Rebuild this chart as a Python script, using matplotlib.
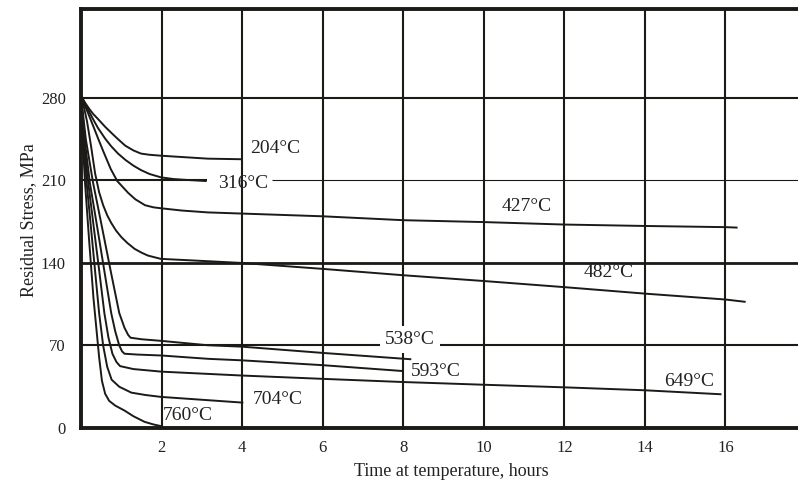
import matplotlib
matplotlib.use("Agg")
import matplotlib.pyplot as plt

plt.rcParams['font.family'] = ['Liberation Serif', 'DejaVu Serif']

# ---------------- data ----------------
x_ticks = [2, 4, 6, 8, 10, 12, 14, 16]
y_ticks = [0, 70, 140, 210, 280]

t204 = [0, 0.1, 0.2, 0.3, 0.42, 0.6, 0.75, 0.92, 1.1, 1.3, 1.49, 1.7, 1.99, 3.15, 4.0]
s204 = [282, 276, 271, 266.5, 262.2, 255.5, 250.5, 245, 239.5, 235.5, 232.8, 231.8, 231, 228.5, 228]

t316 = [0, 0.1, 0.2, 0.3, 0.42, 0.6, 0.75, 0.92, 1.1, 1.3, 1.49, 1.7, 1.99, 2.3, 2.6, 3.12]
s316 = [282, 275, 268.5, 262, 254.6, 245.5, 239, 232.8, 227.5, 222.6, 218.8, 215.5, 212.6, 211.2, 210.5, 209.5]

t427 = [0, 0.1, 0.2, 0.3, 0.42, 0.55, 0.74, 0.9, 1.17, 1.35, 1.59, 1.8, 1.99, 2.5, 3.15, 6, 8, 10, 12, 14, 16, 16.3]
s427 = [282, 273.5, 265, 256.5, 246, 235, 219.6, 209.5, 199.5, 194, 189, 187.2, 186.4, 184.5, 182.9,
        179.6, 176.3, 174.7, 172.6, 171.4, 170.4, 170]

t482 = [0, 0.05, 0.15, 0.25, 0.35, 0.45, 0.55, 0.65, 0.75, 0.87, 1.0, 1.15, 1.33, 1.5, 1.66, 1.98,
        3.15, 4.0, 6, 8, 10, 12, 14, 16, 16.5]
s482 = [282, 276, 260, 239, 216, 200, 189, 180.5, 174, 167.5, 162, 157, 152, 148.8, 146.3, 143.5,
        141.5, 140, 135, 129.6, 124.7, 119.5, 114, 109, 107]

t538 = [0, 0.12, 0.3, 0.5, 0.75, 0.95, 1.08, 1.17, 1.23, 1.5, 2.0, 3.15, 4, 6, 8.2]
s538 = [282, 245, 208, 174, 131, 97.5, 85, 79, 76.6, 75.3, 73.9, 70.2, 69, 63.7, 58.3]

t593 = [0, 0.1, 0.22, 0.4, 0.6, 0.75, 0.85, 0.95, 1.02, 1.08, 1.4, 2.0, 3.15, 4, 6, 8]
s593 = [282, 242, 208, 171, 129, 97.5, 82, 70, 65, 63, 62.3, 61.5, 58.7, 57.4, 53.3, 48.3]

t649 = [0, 0.08, 0.18, 0.3, 0.45, 0.58, 0.68, 0.78, 0.88, 0.97, 1.3, 2.0, 4, 6, 8, 10, 12, 14, 15.9]
s649 = [282, 240, 208, 175, 134, 97.5, 77, 63, 56, 52.5, 50, 47.8, 44.5, 41.7, 39, 36.7, 34.5, 32, 28.6]

t704 = [0, 0.06, 0.14, 0.25, 0.35, 0.45, 0.55, 0.65, 0.76, 0.95, 1.25, 1.6, 1.98, 3.15, 4.03]
s704 = [282, 240, 208, 169, 133, 97.5, 70, 52, 41, 35, 30, 28, 26.4, 23.6, 21.5]

t760 = [0, 0.04, 0.1, 0.2, 0.31, 0.38, 0.45, 0.52, 0.6, 0.7, 0.85, 1.08, 1.3, 1.58, 1.8, 2.0]
s760 = [282, 245, 208, 160, 110, 85, 60, 40, 29, 23, 19, 14.8, 10, 5.2, 3, 1.5]

curves = [(t204, s204), (t316, s316), (t427, s427), (t482, s482), (t538, s538),
          (t593, s593), (t649, s649), (t704, s704), (t760, s760)]

labels = ['204°C', '316°C', '427°C', '482°C', '538°C', '593°C', '649°C', '704°C', '760°C']
label_x = [4.19, 3.40, 10.45, 12.48, 7.55, 8.19, 14.47, 4.27, 2.03]
label_y = [237, 207.4, 188, 131.7, 75, 47.8, 39.5, 23.9, 10.7]

# ---------------- figure ----------------
W, H = 798, 487
fig = plt.figure(figsize=(W / 100, H / 100), dpi=100)
x0_px, y0_px, ytop_px = 81, 428, 9.2
ax = fig.add_axes([x0_px / W, (H - y0_px) / H, (W - x0_px) / W, (y0_px - ytop_px) / H])
ax.set_xlim(0, 17.8)
ax.set_ylim(0, 355.3)

ink = '#1c1a17'

# grid lines
for xv in x_ticks:
    ax.axvline(xv, color=ink, lw=1.5, zorder=1)
ax.axhline(280, color=ink, lw=1.5, zorder=1)
ax.axhline(140, color=ink, lw=2.0, zorder=1)
ax.axhline(70, color=ink, lw=1.5, zorder=1)
ax.hlines(210, 0, 3.12, color=ink, lw=1.5, zorder=1)
ax.hlines(210, 4.75, 17.8, color=ink, lw=0.8, zorder=1)

# curves
for t, s in curves:
    ax.plot(t, s, color=ink, lw=1.4, zorder=2, solid_capstyle='butt', solid_joinstyle='round')

# curve labels
for lab, lx, ly in zip(labels, label_x, label_y):
    kw = {}
    if lab == '538°C':
        kw['bbox'] = dict(boxstyle='square,pad=0.25', fc='white', ec='none')
    ax.text(lx, ly, lab, fontsize=14, color='#222222', ha='left', va='center', zorder=4, **kw)

# spines
for side in ['left', 'top', 'bottom']:
    ax.spines[side].set_linewidth(2.8)
    ax.spines[side].set_color(ink)
ax.spines['right'].set_visible(False)

ax.set_xticks(x_ticks)
ax.set_yticks(y_ticks)
ax.tick_params(axis='both', length=0, labelsize=12, labelcolor='#222222')
ax.tick_params(axis='x', pad=9)
ax.tick_params(axis='y', pad=11)

fig.text(451 / W, (H - 471) / H, 'Time at temperature, hours', fontsize=13,
         color='#222222', ha='center', va='center')
fig.text(29 / W, (H - 220) / H, 'Residual Stress, MPa', fontsize=13,
         color='#222222', ha='center', va='center', rotation=90)

fig.savefig('out.png', dpi=100)
